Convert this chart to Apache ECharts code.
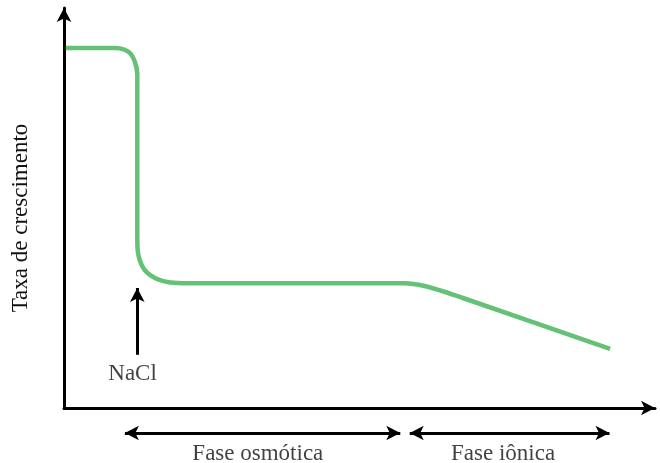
<!DOCTYPE html>
<html>
<head>
<meta charset="utf-8">
<script src="https://cdn.jsdelivr.net/npm/echarts@6/dist/echarts.min.js"></script>
<style>
  html, body { margin: 0; padding: 0; background: #fff; }
  #chart { width: 660px; height: 463px; }
</style>
</head>
<body>
<div id="chart"></div>
<script>
  // curve, arbitrary units (0-100 on both axes)
  const curveX = [0.3, 8.6, 10.2, 11.3, 12.0, 12.4, 12.4, 12.5, 12.9, 13.6, 14.6, 16.0, 18.0, 21.0, 57.7, 61.0, 64.5, 67.5, 92.4];
  const curveY = [90.0, 90.0, 89.6, 88.5, 86.5, 83.5, 43.0, 39.0, 36.6, 34.6, 33.2, 32.1, 31.4, 31.2, 31.2, 30.5, 29.0, 27.5, 14.8];

  const naclArrowX = [12.4, 12.4];
  const naclArrowY = [13.3, 30.0];
  const naclLabel = { text: 'NaCl', x: 11.6, y: 8.6 };

  // lower strip (phase arrows), units 0-10
  const osmoticX = [10.3, 56.9];
  const ionicX = [58.5, 92.3];
  const phaseY = 6;
  const phaseTexts = ['Fase osmótica', 'Fase iônica'];
  const phaseLabelX = [32.8, 74.3];
  const phaseLabelY = [1.9, 1.9];

  const font = '"Liberation Serif", "Times New Roman", serif';
  const green = '#64c176';
  const hidden = { axisLine: { show: false }, axisTick: { show: false }, axisLabel: { show: false }, splitLine: { show: false } };

  const chart = echarts.init(document.getElementById('chart'));
  chart.setOption({
    animation: false,
    grid: [
      { left: 64, right: 5, top: 8, bottom: 55, containLabel: false, outerBoundsMode: 'none' },
      { left: 64, right: 5, top: 413, bottom: 0, containLabel: false, outerBoundsMode: 'none' }
    ],
    xAxis: [
      {
        type: 'value', min: 0, max: 100, gridIndex: 0,
        axisLine: { onZero: false, symbol: ['none', 'arrow'], symbolSize: [11, 14], lineStyle: { color: '#000', width: 3 } },
        axisTick: { show: false }, axisLabel: { show: false }, splitLine: { show: false }
      },
      Object.assign({ type: 'value', min: 0, max: 100, gridIndex: 1 }, hidden)
    ],
    yAxis: [
      {
        type: 'value', min: 0, max: 100, gridIndex: 0,
        name: 'Taxa de crescimento', nameLocation: 'middle', nameGap: 32, nameRotate: 90,
        nameTextStyle: { fontFamily: font, fontSize: 23, color: '#111', padding: [0, 0, 0, -20] },
        axisLine: { show: true, symbol: ['none', 'arrow'], symbolSize: [11, 14], lineStyle: { color: '#000', width: 3 } },
        axisTick: { show: false }, axisLabel: { show: false }, splitLine: { show: false }
      },
      Object.assign({ type: 'value', min: 0, max: 10, gridIndex: 1 }, hidden)
    ],
    series: [
      {
        type: 'line',
        data: curveX.map((x, i) => [x, curveY[i]]),
        showSymbol: false,
        smooth: 0.25,
        lineStyle: { color: green, width: 4.5 },
        clip: false,
        markLine: {
          silent: true, animation: false, symbolSize: [11, 14],
          label: { show: false },
          lineStyle: { color: '#000', width: 3, type: 'solid' },
          data: [
            [{ coord: [naclArrowX[0], naclArrowY[0]], symbol: 'none' }, { coord: [naclArrowX[1], naclArrowY[1]], symbol: 'arrow' }]
          ]
        }
      },
      {
        type: 'scatter', symbolSize: 0, silent: true, clip: false,
        data: [{ value: [naclLabel.x, naclLabel.y], name: naclLabel.text }],
        label: { show: true, position: 'inside', formatter: p => p.name, fontFamily: font, fontSize: 23, color: '#111' }
      },
      {
        type: 'line', xAxisIndex: 1, yAxisIndex: 1, data: [], clip: false, silent: true,
        markLine: {
          silent: true, animation: false, symbolSize: [11, 14],
          label: { show: false },
          lineStyle: { color: '#000', width: 3, type: 'solid' },
          data: [
            [{ coord: [osmoticX[0], phaseY], symbol: 'arrow' }, { coord: [osmoticX[1], phaseY], symbol: 'arrow' }],
            [{ coord: [ionicX[0], phaseY], symbol: 'arrow' }, { coord: [ionicX[1], phaseY], symbol: 'arrow' }]
          ]
        }
      },
      {
        type: 'scatter', xAxisIndex: 1, yAxisIndex: 1, symbolSize: 0, silent: true, clip: false,
        data: phaseTexts.map((t, i) => ({ value: [phaseLabelX[i], phaseLabelY[i]], name: t })),
        label: { show: true, position: 'inside', formatter: p => p.name, fontFamily: font, fontSize: 23, color: '#111' }
      }
    ]
  });
</script>
</body>
</html>
